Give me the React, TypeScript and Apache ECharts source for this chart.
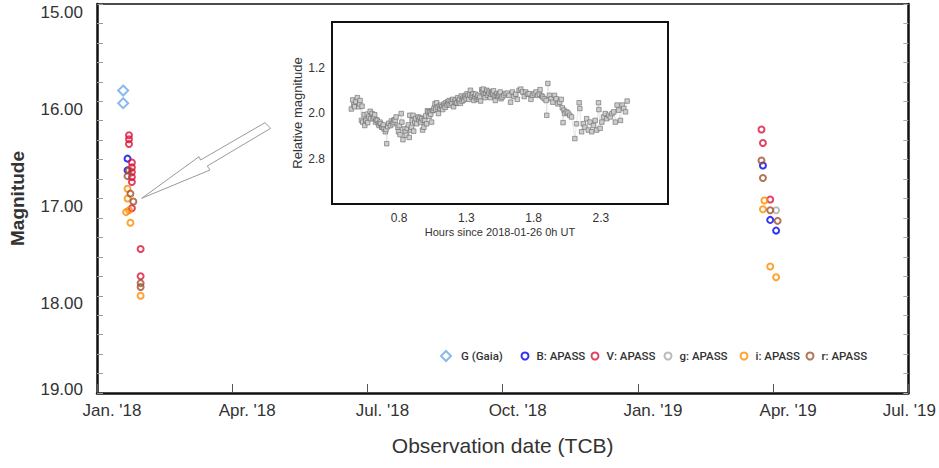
import React, { useEffect, useRef } from "react";
import * as echarts from "echarts";

// ---------- data ----------
const xTickLabels = ["Jan. '18", "Apr. '18", "Jul. '18", "Oct. '18", "Jan. '19", "Apr. '19", "Jul. '19"];

const gaiaG: [string, number][] = [
  ["2018-01-19", 15.89],
  ["2018-01-19", 16.02],
];
const apassB: [string, number][] = [
  ["2018-01-22", 16.59],
  ["2018-01-22", 16.71],
  ["2019-03-25", 16.66],
  ["2019-03-30", 17.22],
  ["2019-04-03", 17.33],
];
const apassV: [string, number][] = [
  ["2018-01-23", 16.35],
  ["2018-01-23", 16.39],
  ["2018-01-23", 16.44],
  ["2018-01-25", 16.63],
  ["2018-01-25", 16.68],
  ["2018-01-25", 16.73],
  ["2018-01-25", 16.78],
  ["2018-01-25", 16.83],
  ["2018-01-25", 17.1],
  ["2018-01-31", 17.52],
  ["2018-01-31", 17.8],
  ["2019-03-24", 16.29],
  ["2019-03-25", 16.43],
  ["2019-03-30", 17.01],
];
const apassg: [string, number][] = [["2019-04-03", 17.12]];
const apassi: [string, number][] = [
  ["2018-01-22", 16.9],
  ["2018-01-22", 17.0],
  ["2018-01-21", 17.14],
  ["2018-01-23", 17.12],
  ["2018-01-24", 17.25],
  ["2018-01-31", 18.0],
  ["2019-03-26", 17.02],
  ["2019-03-25", 17.11],
  ["2019-03-30", 17.7],
  ["2019-04-03", 17.81],
];
const apassr: [string, number][] = [
  ["2018-01-23", 16.71],
  ["2018-01-22", 16.77],
  ["2018-01-24", 16.95],
  ["2018-01-26", 17.03],
  ["2018-01-31", 17.87],
  ["2018-01-31", 17.91],
  ["2019-03-24", 16.61],
  ["2019-03-25", 16.79],
  ["2019-03-30", 17.12],
  ["2019-04-04", 17.23],
];

// inset light curve: [hours since 2018-01-26 0h UT, relative magnitude]
const lightCurve: [number, number][] = [
  [0.444, 1.93], [0.454, 1.77], [0.462, 1.86], [0.469, 1.89], [0.478, 1.8], [0.489, 1.73], [0.499, 1.89],
  [0.505, 1.84], [0.509, 1.78], [0.519, 2.13], [0.524, 1.88], [0.529, 2.16], [0.539, 2.03], [0.544, 2.22],
  [0.551, 2.13], [0.554, 2.13], [0.562, 2.02], [0.566, 2.17], [0.574, 2.07], [0.584, 1.97], [0.587, 2.1],
  [0.599, 2.01], [0.605, 2.1], [0.612, 2.07], [0.618, 2.03], [0.624, 2.16], [0.63, 2.12], [0.637, 2.13],
  [0.645, 2.19], [0.65, 2.22], [0.657, 2.16], [0.662, 2.19], [0.67, 2.25], [0.675, 2.25], [0.682, 2.21],
  [0.687, 2.28], [0.697, 2.33], [0.702, 2.29], [0.707, 2.54], [0.715, 2.24], [0.722, 2.18], [0.735, 2.22],
  [0.742, 2.14], [0.75, 2.19], [0.757, 2.16], [0.762, 2.12], [0.77, 2.13], [0.777, 2.07],
  [0.79, 2.25], [0.795, 2.33], [0.801, 2.22], [0.806, 2.38], [0.815, 2.01], [0.82, 2.16], [0.828, 2.47],
  [0.838, 2.28], [0.846, 2.33], [0.852, 2.39], [0.86, 2.27], [0.868, 2.21], [0.875, 2.43], [0.879, 2.04],
  [0.886, 2.3], [0.891, 2.25], [0.897, 2.13], [0.903, 2.04], [0.908, 2.32], [0.916, 2.16], [0.922, 2.1],
  [0.93, 2.19], [0.941, 2.07], [0.948, 2.12], [0.955, 2.08], [0.961, 2.16], [0.968, 2.1], [0.974, 2.3],
  [0.98, 2.13], [0.984, 2.25], [0.991, 2.13], [0.997, 2.05],
  [1.004, 2.19], [1.01, 1.96], [1.016, 1.98], [1.022, 2.06], [1.028, 1.99], [1.035, 2.02], [1.041, 2.16],
  [1.047, 1.96], [1.054, 1.95], [1.06, 1.91], [1.066, 1.84], [1.072, 1.93], [1.079, 1.82], [1.085, 1.9],
  [1.092, 2.01], [1.098, 1.88], [1.104, 1.92], [1.11, 1.86], [1.117, 1.89], [1.124, 1.94], [1.13, 1.87],
  [1.136, 1.84], [1.142, 1.9], [1.148, 1.82], [1.155, 1.86], [1.161, 1.8], [1.167, 1.84], [1.173, 1.78],
  [1.18, 1.86], [1.186, 1.79], [1.192, 1.83], [1.198, 1.76], [1.205, 1.89], [1.211, 1.8], [1.218, 1.77],
  [1.224, 1.83], [1.23, 1.82], [1.236, 1.73], [1.243, 1.79], [1.249, 1.76], [1.255, 1.83], [1.262, 1.7],
  [1.268, 1.79], [1.274, 1.74], [1.28, 1.77], [1.287, 1.72], [1.293, 1.69], [1.299, 1.75], [1.305, 1.66],
  [1.311, 1.7], [1.318, 1.76], [1.324, 1.68], [1.33, 1.6], [1.337, 1.72], [1.343, 1.69], [1.35, 1.66],
  [1.356, 1.78], [1.362, 1.71], [1.368, 1.67], [1.375, 1.75], [1.381, 1.72], [1.387, 1.69], [1.393, 1.76],
  [1.4, 1.72], [1.406, 1.79], [1.414, 1.59], [1.42, 1.62], [1.426, 1.58], [1.433, 1.67], [1.439, 1.73],
  [1.445, 1.65], [1.451, 1.6], [1.458, 1.69], [1.464, 1.62], [1.469, 1.65], [1.477, 1.73], [1.483, 1.67],
  [1.49, 1.64], [1.496, 1.66], [1.502, 1.61], [1.509, 1.7], [1.515, 1.78], [1.521, 1.69], [1.527, 1.66],
  [1.534, 1.71], [1.54, 1.69], [1.546, 1.66], [1.552, 1.63], [1.558, 1.75],
  [1.566, 1.72], [1.579, 1.69], [1.591, 1.66], [1.604, 1.65], [1.617, 1.69], [1.629, 1.81], [1.642, 1.63],
  [1.654, 1.71], [1.667, 1.67], [1.679, 1.76], [1.692, 1.6], [1.705, 1.58], [1.717, 1.63], [1.73, 1.71],
  [1.742, 1.63], [1.755, 1.67], [1.767, 1.66], [1.78, 1.76], [1.792, 1.69], [1.805, 1.66], [1.818, 1.63],
  [1.83, 1.69], [1.843, 1.67], [1.848, 1.59], [1.861, 1.7], [1.868, 1.72], [1.88, 1.75], [1.893, 1.78],
  [1.898, 2.04], [1.906, 1.48], [1.918, 1.69], [1.931, 1.75], [1.943, 1.81], [1.956, 1.69], [1.968, 1.75],
  [1.981, 1.84], [1.994, 1.81], [2.006, 1.76], [2.014, 1.91], [2.019, 2.17], [2.026, 1.95], [2.031, 2.01],
  [2.044, 1.98], [2.056, 2.0], [2.069, 2.04], [2.082, 2.07], [2.107, 2.45], [2.119, 2.19], [2.139, 1.82],
  [2.144, 1.92], [2.157, 2.33], [2.17, 2.19], [2.182, 2.25], [2.195, 2.1], [2.207, 2.3], [2.22, 2.16],
  [2.232, 2.33], [2.245, 2.22], [2.258, 2.13], [2.27, 2.3], [2.283, 1.82], [2.286, 1.94], [2.295, 2.27],
  [2.308, 2.16], [2.32, 2.07], [2.333, 2.01], [2.345, 2.1], [2.358, 2.04], [2.371, 2.07], [2.383, 2.01],
  [2.396, 1.98], [2.408, 2.16], [2.421, 1.86], [2.433, 1.95], [2.446, 2.13], [2.459, 1.86], [2.471, 1.92],
  [2.484, 1.98], [2.496, 1.79],
];

// ---------- helpers ----------
function monthsSince2018(d: string): number {
  const [y, m, day] = d.split("-").map(Number);
  const dim = new Date(y, m, 0).getDate();
  return (y - 2018) * 12 + (m - 1) + (day - 1) / dim;
}
const toXY = (arr: [string, number][]) => arr.map(([d, v]) => [monthsSince2018(d), v]);

const FONT = "'Liberation Sans', Arial, sans-serif";

export default function App() {
  const ref = useRef<HTMLDivElement>(null);

  useEffect(() => {
    if (!ref.current) return;
    const chart = echarts.init(ref.current, undefined, { renderer: "svg" });

    const circleSeries = (name: string, data: [string, number][], color: string) => ({
      name,
      type: "scatter",
      xAxisIndex: 0,
      yAxisIndex: 0,
      symbol: "circle",
      symbolSize: 6,
      data: toXY(data),
      itemStyle: { color: "rgba(0,0,0,0)", borderColor: color, borderWidth: 2 },
      z: 3,
    });

    const legendDefs = [
      { name: "G (Gaia)", cx: 445, w: 10, pad: 5 },
      { name: "B: APASS", cx: 524, w: 7, pad: 3 },
      { name: "V: APASS", cx: 594, w: 7, pad: 3 },
      { name: "g: APASS", cx: 667, w: 7, pad: 3 },
      { name: "i: APASS", cx: 743, w: 7, pad: 3 },
      { name: "r: APASS", cx: 809, w: 7, pad: 3 },
    ];

    const axisLineStyle = { color: "#111", width: 2.5 };

    const option: any = {
      animation: false,
      backgroundColor: "#fff",
      textStyle: { fontFamily: FONT },
      grid: [
        { left: 97, right: 30, top: 4, bottom: 75, show: false },
        {
          left: 332, right: 271, top: 22, bottom: 264, show: true,
          backgroundColor: "#fff", borderColor: "#111", borderWidth: 2, z: 5,
        },
      ],
      legend: legendDefs.map((d) => ({
        data: [d.name],
        left: d.cx - d.w / 2,
        top: 350,
        padding: 0,
        itemWidth: d.w,
        itemHeight: d.w,
        selectedMode: false,
        textStyle: {
          fontFamily: "Roboto, 'Liberation Sans', sans-serif",
          fontSize: 11.5,
          fontWeight: 500,
          color: "#333",
          padding: [0, 0, 0, d.pad],
        },
      })),
      xAxis: [
        {
          gridIndex: 0, type: "value", min: 0, max: 18, interval: 3, position: "bottom",
          axisLine: { show: true, onZero: false, lineStyle: axisLineStyle },
          axisTick: { show: true, inside: true, length: 9, lineStyle: { color: "#555", width: 1 } },
          splitLine: { show: false },
          axisLabel: {
            margin: 9,
            formatter: (v: number) => {
              const i = Math.round(v / 3);
              const t = xTickLabels[i];
              return i < xTickLabels.length - 1 ? `{a|${t}}` : `{b|${t}}`;
            },
            rich: {
              a: { fontSize: 17, fontFamily: FONT, color: "#333", padding: [0, 0, 0, 30] },
              b: { fontSize: 17, fontFamily: FONT, color: "#333", padding: [0, 0, 0, 2] },
            },
          },
          name: "Observation date (TCB)",
          nameLocation: "middle",
          nameGap: 42,
          nameTextStyle: { fontSize: 21, color: "#333", fontFamily: FONT },
        },
        {
          gridIndex: 0, type: "value", min: 0, max: 18, interval: 3, position: "top",
          axisLine: { show: true, onZero: false, lineStyle: { color: "#111", width: 1.5 } },
          axisTick: { show: false }, axisLabel: { show: false }, splitLine: { show: false },
        },
        {
          gridIndex: 1, type: "value", min: 0.3, max: 2.8, interval: 0.5,
          axisLine: { show: false }, axisTick: { show: false },
          axisLabel: {
            showMinLabel: false, showMaxLabel: false, margin: 8,
            formatter: (v: number) => v.toFixed(1), fontSize: 12, color: "#333",
          },
          splitLine: { show: true, lineStyle: { type: "dotted", color: "#888", width: 1 } },
          name: "Hours since 2018-01-26 0h UT",
          nameLocation: "middle",
          nameGap: 22,
          nameTextStyle: { fontSize: 11, color: "#333" },
        },
      ],
      yAxis: [
        {
          gridIndex: 0, type: "value", inverse: true, min: 15, max: 19, interval: 1, position: "left",
          axisLine: { show: true, onZero: false, lineStyle: axisLineStyle },
          axisTick: { show: true, inside: true, length: 6, lineStyle: { color: "#999" } },
          minorTick: { show: true, splitNumber: 5, length: 6, lineStyle: { color: "#999" } },
          splitLine: { show: false },
          axisLabel: {
            margin: 14,
            formatter: (v: number) => (v >= 19 ? `{b|${v.toFixed(2)}}` : `{a|${v.toFixed(2)}}`),
            rich: {
              a: { fontSize: 17, fontFamily: FONT, color: "#333", padding: [16, 0, 0, 0] },
              b: { fontSize: 17, fontFamily: FONT, color: "#333", padding: [0, 0, 8, 0] },
            },
          },
          name: "Magnitude",
          nameLocation: "middle",
          nameGap: 70,
          nameTextStyle: { fontSize: 19, fontWeight: "bold", color: "#333", fontFamily: FONT },
        },
        {
          gridIndex: 0, type: "value", inverse: true, min: 15, max: 19, interval: 1, position: "right",
          axisLine: { show: true, onZero: false, lineStyle: axisLineStyle },
          axisTick: { show: true, inside: true, length: 5, lineStyle: { color: "#aaa" } },
          minorTick: { show: true, splitNumber: 5, length: 5, lineStyle: { color: "#aaa" } },
          axisLabel: { show: false }, splitLine: { show: false },
        },
        {
          gridIndex: 1, type: "value", inverse: true, min: 0.4, max: 3.6, interval: 0.8,
          axisLine: { show: false }, axisTick: { show: false },
          axisLabel: {
            showMinLabel: false, showMaxLabel: false, margin: 7,
            formatter: (v: number) => v.toFixed(1), fontSize: 12, color: "#333",
          },
          splitLine: { show: true, lineStyle: { type: "dotted", color: "#888", width: 1 } },
          name: "Relative magnitude",
          nameLocation: "middle",
          nameGap: 28,
          nameTextStyle: { fontSize: 13, color: "#333" },
        },
      ],
      graphic: [
        {
          type: "polygon",
          z: 20,
          shape: {
            points: [
              [141.7, 198.3], [199, 156.7], [200.5, 160], [265, 122.7],
              [270.7, 128.3], [207.3, 166], [210, 170],
            ],
          },
          style: { fill: "#fff", stroke: "#9a9a9a", lineWidth: 1 },
        },
      ],
      series: [
        {
          name: "G (Gaia)",
          type: "scatter",
          xAxisIndex: 0,
          yAxisIndex: 0,
          symbol: "diamond",
          symbolSize: 10,
          data: toXY(gaiaG),
          itemStyle: { color: "rgba(0,0,0,0)", borderColor: "#6fa7e6", borderWidth: 2 },
          z: 3,
        },
        circleSeries("B: APASS", apassB, "#0000f0"),
        circleSeries("V: APASS", apassV, "#dc143c"),
        circleSeries("g: APASS", apassg, "#aaaaaa"),
        circleSeries("i: APASS", apassi, "#ff8c00"),
        circleSeries("r: APASS", apassr, "#a0522d"),
        {
          name: "lightcurve",
          type: "line",
          xAxisIndex: 2,
          yAxisIndex: 2,
          data: lightCurve,
          showSymbol: true,
          symbol: "rect",
          symbolSize: 4.5,
          lineStyle: { color: "#d6d6d6", width: 0.6 },
          itemStyle: { color: "#cdcdcd", borderColor: "#666", borderWidth: 0.6 },
          z: 6,
        },
      ],
    };

    chart.setOption(option);
    return () => chart.dispose();
  }, []);

  return (
    <div
      ref={ref}
      style={{ position: "fixed", left: 0, top: 0, width: 939, height: 468, background: "#fff" }}
    />
  );
}
